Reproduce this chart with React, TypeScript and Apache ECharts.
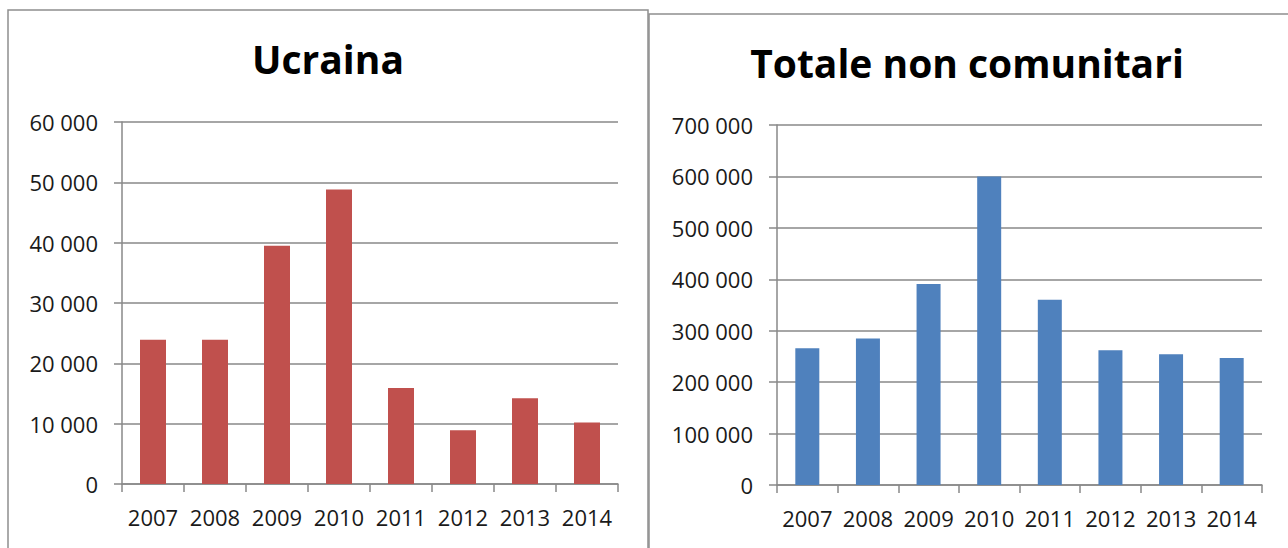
import React, { useEffect, useRef } from "react";
import * as echarts from "echarts";

const years = ["2007", "2008", "2009", "2010", "2011", "2012", "2013", "2014"];
const ucrainaValues = [23900, 23900, 39500, 48800, 15900, 8900, 14200, 10200];
const totaleValues = [266000, 285000, 391000, 600000, 360000, 262000, 254000, 247000];
const titles = ["Ucraina", "Totale non comunitari"];

const FONT = "'Open Sans', 'Liberation Sans', sans-serif";
const AXIS_GRAY = "#898989";
const LABEL_COLOR = "#1a1a1a";

const fmt = (v: number) => {
  if (v === 0) return "0";
  const s = String(Math.round(v));
  return s.replace(/\B(?=(\d{3})+(?!\d))/g, " ");
};

export default function App() {
  const ref = useRef<HTMLDivElement>(null);

  useEffect(() => {
    if (!ref.current) return;
    const chart = echarts.init(ref.current, undefined, { renderer: "svg" });

    const xAxisBase = (gridIndex: number) => ({
      type: "category" as const,
      gridIndex,
      data: years,
      axisLine: { show: true, lineStyle: { color: AXIS_GRAY, width: 1.5 } },
      axisTick: { show: true, length: 8, lineStyle: { color: AXIS_GRAY, width: 1.5 } },
      axisLabel: {
        color: LABEL_COLOR,
        fontFamily: FONT,
        fontSize: 22,
        margin: 22,
        interval: 0,
        hideOverlap: false,
      },
      splitLine: { show: false },
    });

    const yAxisBase = (gridIndex: number, max: number, interval: number) => ({
      type: "value" as const,
      gridIndex,
      min: 0,
      max,
      interval,
      axisLine: { show: true, lineStyle: { color: AXIS_GRAY, width: 1.5 } },
      axisTick: { show: true, length: 8, lineStyle: { color: AXIS_GRAY, width: 1.5 } },
      axisLabel: {
        color: LABEL_COLOR,
        fontFamily: FONT,
        fontSize: 22,
        margin: 24,
        formatter: (v: number) => fmt(v),
      },
      splitLine: { show: true, lineStyle: { color: AXIS_GRAY, width: 1.5 } },
    });

    chart.setOption({
      animation: false,
      backgroundColor: "#ffffff",
      title: [
        {
          text: titles[0],
          left: 323,
          top: 34,
          textAlign: "center",
          textStyle: { fontFamily: FONT, fontWeight: "bold", fontSize: 39, color: "#000" },
        },
        {
          text: titles[1],
          left: 962,
          top: 38,
          textAlign: "center",
          textStyle: { fontFamily: FONT, fontWeight: "bold", fontSize: 39, color: "#000" },
        },
      ],
      graphic: [
        {
          type: "rect",
          shape: { x: 8, y: 10, width: 640, height: 600 },
          style: { fill: "none", stroke: "#8f8f8f", lineWidth: 1.5 },
          silent: true,
        },
        {
          type: "rect",
          shape: { x: 649, y: 14, width: 700, height: 600 },
          style: { fill: "#ffffff", stroke: "#8f8f8f", lineWidth: 1.5 },
          silent: true,
          z: -1,
        },
      ],
      grid: [
        { left: 122, top: 122, right: 670, bottom: 64 },
        { left: 777, top: 125, right: 26, bottom: 63 },
      ],
      xAxis: [xAxisBase(0), xAxisBase(1)],
      yAxis: [yAxisBase(0, 60000, 10000), yAxisBase(1, 700000, 100000)],
      series: [
        {
          type: "bar",
          xAxisIndex: 0,
          yAxisIndex: 0,
          data: ucrainaValues,
          barWidth: 26,
          itemStyle: { color: "#C0504D" },
        },
        {
          type: "bar",
          xAxisIndex: 1,
          yAxisIndex: 1,
          data: totaleValues,
          barWidth: 24,
          itemStyle: { color: "#4F81BD" },
        },
      ],
    });

    return () => chart.dispose();
  }, []);

  return (
    <div
      ref={ref}
      style={{ position: "absolute", left: 0, top: 0, width: 1288, height: 548 }}
    />
  );
}
